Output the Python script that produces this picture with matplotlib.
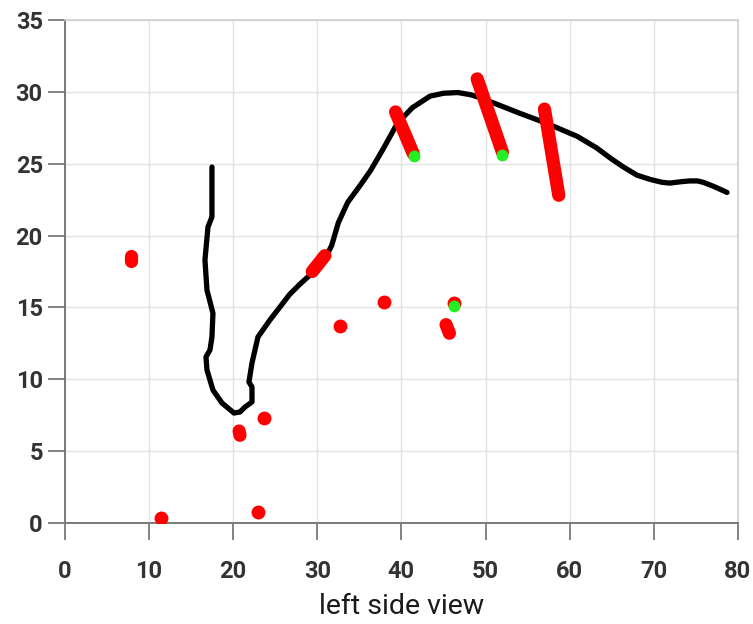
import matplotlib
matplotlib.use("Agg")
import matplotlib.pyplot as plt

# black outline curve (traced)
curve_x = [17.47, 17.47, 17.0, 16.64, 16.88, 17.59, 17.47, 17.24, 16.76, 16.88, 17.59, 18.66,
           20.09, 20.8, 21.4, 22.23, 22.23, 21.87, 22.23, 22.94, 24.37, 25.56, 26.7, 27.9,
           29.4, 30.9, 31.7, 32.5, 33.6, 35.1, 36.3, 37.8, 39.5, 41.3, 43.4, 45.0, 46.7,
           48.2, 49.3, 51.5, 54.1, 57.3, 59.3, 60.9, 63.2, 64.8, 66.3, 68.0, 69.6, 71.0,
           71.9, 73.3, 74.3, 75.2, 75.9, 77.2, 78.7]
curve_y = [24.77, 21.29, 20.6, 18.3, 16.2, 14.6, 12.94, 12.04, 11.55, 10.65, 9.25, 8.35,
           7.65, 7.72, 8.07, 8.42, 9.46, 9.81, 11.13, 12.94, 14.13, 15.03, 15.9, 16.6,
           17.4, 18.4, 19.3, 20.9, 22.3, 23.5, 24.5, 26.0, 27.8, 28.9, 29.7, 29.9, 29.95,
           29.8, 29.6, 29.1, 28.5, 27.8, 27.3, 26.9, 26.1, 25.4, 24.8, 24.2, 23.9, 23.7,
           23.65, 23.75, 23.8, 23.8, 23.7, 23.4, 23.0]

# red strokes: start (x0, y0) -> end (x1, y1)
stroke_x0 = [39.3, 49.0, 57.0, 29.4, 7.9, 20.7, 45.3]
stroke_y0 = [28.6, 30.9, 28.8, 17.5, 18.6, 6.4, 13.8]
stroke_x1 = [41.4, 52.0, 58.7, 30.9, 7.9, 20.8, 45.7]
stroke_y1 = [25.7, 25.8, 22.8, 18.6, 18.2, 6.1, 13.2]

# single red points
dot_x = [11.4, 23.6, 23.0, 32.7, 37.9, 46.2]
dot_y = [0.35, 7.3, 0.75, 13.7, 15.4, 15.3]

# green points
green_x = [41.5, 52.0, 46.3]
green_y = [25.5, 25.6, 15.1]

x_ticks = [0, 10, 20, 30, 40, 50, 60, 70, 80]
y_ticks = [0, 5, 10, 15, 20, 25, 30, 35]

fig = plt.figure(figsize=(7.53, 6.24), dpi=100)
ax = fig.add_axes([0.0863, 0.1619, 0.8937, 0.8061])

ax.plot(curve_x, curve_y, color="black", lw=3.8, solid_capstyle="round",
        solid_joinstyle="round", zorder=3)

for x0, y0, x1, y1 in zip(stroke_x0, stroke_y0, stroke_x1, stroke_y1):
    ax.plot([x0, x1], [y0, y1], color="#ff0000", lw=9.5, solid_capstyle="round", zorder=4)

ax.plot(dot_x, dot_y, "o", color="#ff0000", ms=10, mec="none", zorder=4)
ax.plot(green_x, green_y, "o", color="#22ee22", ms=8.5, mec="none", zorder=5)

ax.set_xlim(0, 80)
ax.set_ylim(0, 35)
ax.set_xticks(x_ticks)
ax.set_yticks(y_ticks)
ax.grid(True, color="#e3e3e3", lw=1.0)
ax.set_axisbelow(True)

for side in ["top", "right"]:
    ax.spines[side].set_color("#cfcfcf")
    ax.spines[side].set_linewidth(1.2)
for side in ["left", "bottom"]:
    ax.spines[side].set_color("#7a7a7a")
    ax.spines[side].set_linewidth(1.4)

ax.tick_params(axis="both", direction="out", length=12, width=1.3, color="#7a7a7a",
               labelsize=17, labelcolor="#333333")
ax.tick_params(axis="x", pad=15)
ax.tick_params(axis="y", pad=4)
for lbl in ax.get_xticklabels() + ax.get_yticklabels():
    lbl.set_fontweight("bold")
    lbl.set_fontfamily("Roboto")

ax.set_xlabel("left side view", fontsize=20.5, family="Roboto", color="#1a1a1a", labelpad=7)

fig.savefig("out.png", dpi=100)
